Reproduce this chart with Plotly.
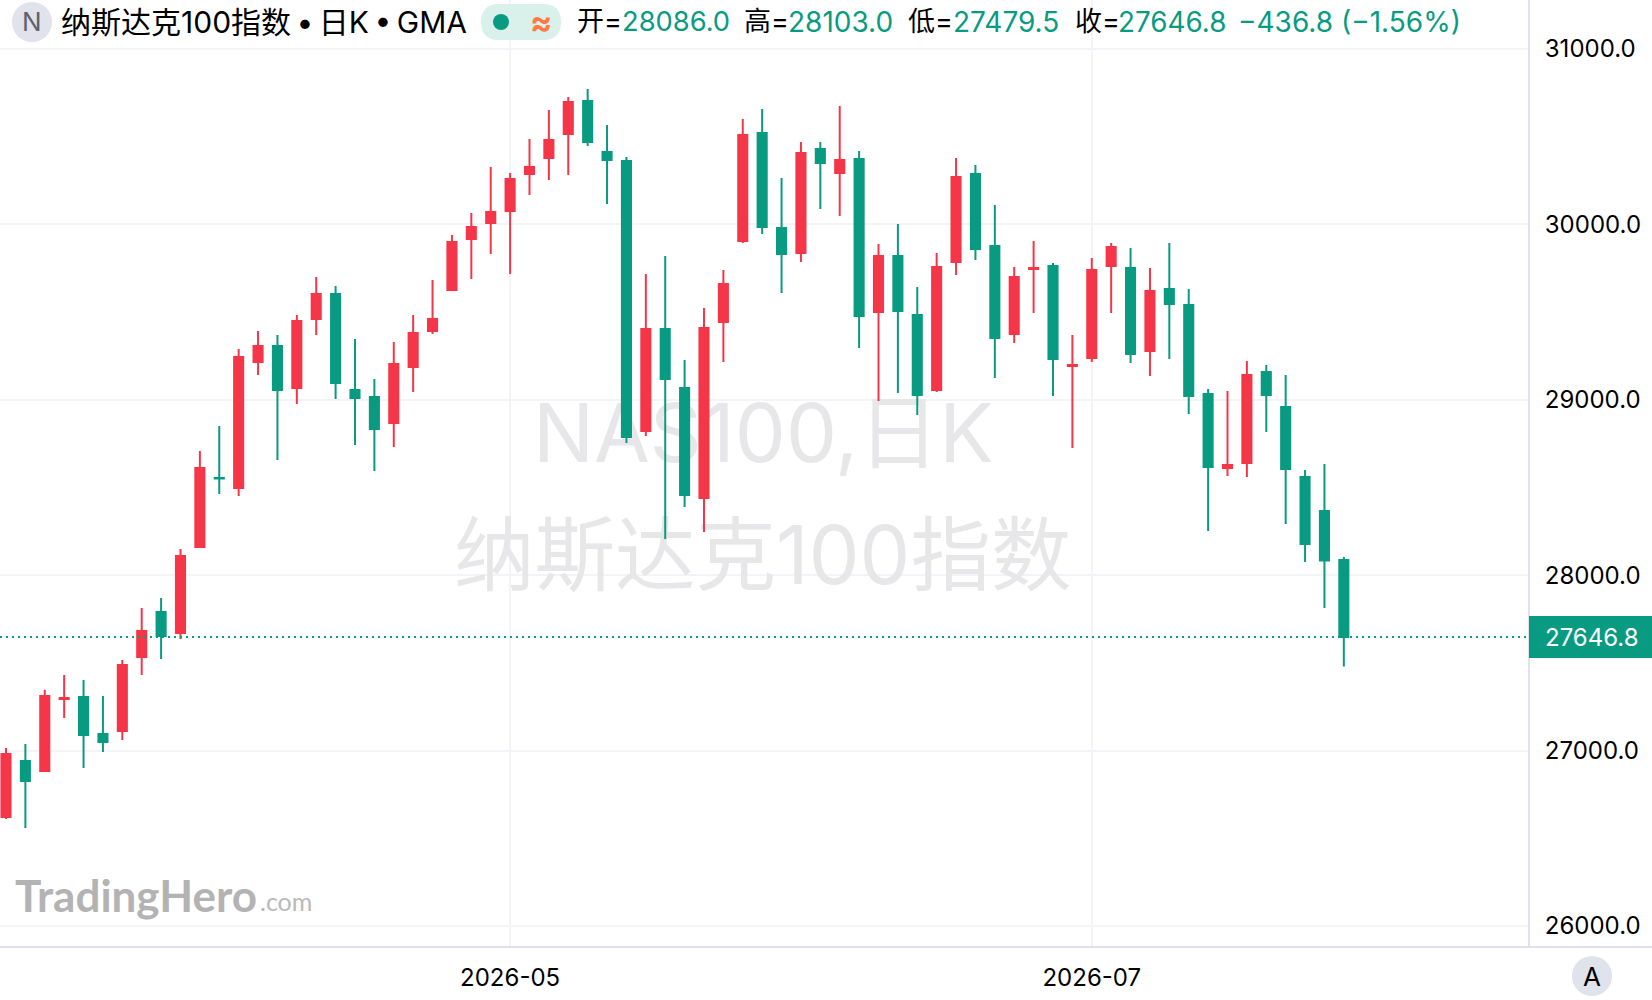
import plotly.graph_objects as go

# Daily OHLC bars, oldest first
open_ = [26621, 26941, 26884, 27294, 27306, 27095, 27112, 27534, 27790, 27670,
         28161, 28554, 28497, 29216, 29307, 29067, 29461, 29603, 29056, 29016,
         28868, 29187, 29392, 29626, 29917, 30008, 30076, 30287, 30379, 30515,
         30704, 30413, 30362, 28822, 29404, 29067, 28440, 29444, 29905, 30521,
         29980, 29837, 30430, 30293, 30373, 29501, 29820, 29484, 29056, 29786,
         30287, 29877, 29375, 29746, 29763, 29193, 29238, 29763, 29751, 29278,
         29632, 29541, 29033, 28611, 28640, 29159, 28959, 28560, 28366, 28086.0]
high = [27015, 27038, 27346, 27431, 27403, 27311, 27517, 27813, 27870, 28149,
        28708, 28851, 29290, 29392, 29369, 29484, 29700, 29649, 29347, 29119,
        29330, 29484, 29683, 29940, 30065, 30327, 30293, 30487, 30652, 30726,
        30772, 30567, 30384, 29717, 29820, 29227, 29523, 29740, 30601, 30658,
        30265, 30470, 30470, 30675, 30419, 29888, 30002, 29643, 29837, 30379,
        30339, 30111, 29757, 29905, 29780, 29369, 29808, 29894, 29865, 29751,
        29894, 29632, 29062, 29050, 29221, 29198, 29141, 28600, 28634, 28103.0]
low = [26610, 26559, 26878, 27186, 26901, 26992, 27060, 27431, 27522, 27636,
       28155, 28463, 28452, 29141, 28657, 28976, 29369, 29005, 28742, 28594,
       28731, 29045, 29375, 29620, 29689, 29831, 29717, 30168, 30253, 30282,
       30447, 30116, 28754, 28794, 28206, 28389, 28246, 29216, 29894, 29945,
       29609, 29786, 30088, 30048, 29295, 28993, 29039, 28913, 29045, 29712,
       29797, 29124, 29324, 29495, 29022, 28725, 29216, 29495, 29210, 29136,
       29233, 28919, 28252, 28566, 28560, 28816, 28292, 28075, 27813, 27479.5]
close = [26981, 26827, 27311, 27300, 27089, 27049, 27488, 27682, 27653, 28109,
         28611, 28551, 29244, 29307, 29056, 29449, 29603, 29096, 29010, 28834,
         29204, 29381, 29461, 29900, 29985, 30071, 30259, 30327, 30481, 30698,
         30470, 30367, 28788, 29404, 29119, 28457, 29409, 29660, 30510, 29985,
         29831, 30407, 30350, 30367, 29478, 29820, 29506, 29027, 29757, 30270,
         29860, 29352, 29700, 29751, 29233, 29198, 29740, 29871, 29261, 29620,
         29546, 29022, 28617, 28628, 29141, 29027, 28605, 28178, 28083.6, 27646.8]
bar_index = list(range(len(close)))

price_ticks = [26000, 27000, 28000, 29000, 30000, 31000]
month_positions = [26, 56]
month_labels = ["2026-05", "2026-07"]

last_price = close[-1]
change = last_price - close[-2]
change_pct = change / close[-2] * 100

UP = "#F53648"
DOWN = "#099B81"
GRID = "#F3F3F8"
BORDER = "#E0E1EC"
BADGE = "#E0E2EC"
NUM_FONT = "Inter, Liberation Sans, Noto Sans CJK SC"
WATERMARK = "#E7E7E9"

WIDTH, HEIGHT = 1652, 1000
PLOT_W, PLOT_H = 1529, 947


def px(x):
    return x / PLOT_W


def py(y):
    return 1 - y / PLOT_H


x_range = [-0.309, 78.55]
y_range = [25880, 31279.3]

fig = go.Figure()

# Watermark sits on the base subplot so the candles overlay it
fig.add_trace(go.Scatter(
    x=[39.06, 39.03], y=[28762, 28062],
    mode="text",
    text=["NAS100,日K", "纳斯达克100指数"],
    textposition="middle center",
    textfont=dict(size=[81, 80.5], color=WATERMARK, family=NUM_FONT),
    hoverinfo="skip", showlegend=False,
    xaxis="x", yaxis="y",
))

fig.add_trace(go.Candlestick(
    x=bar_index, open=open_, high=high, low=low, close=close,
    increasing=dict(line=dict(color=UP, width=2), fillcolor=UP),
    decreasing=dict(line=dict(color=DOWN, width=2), fillcolor=DOWN),
    whiskerwidth=0,
    xaxis="x2", yaxis="y2",
    showlegend=False,
))

shapes = [
    # Axis borders
    dict(type="line", xref="paper", yref="paper", x0=px(0), x1=px(WIDTH),
         y0=py(PLOT_H), y1=py(PLOT_H), line=dict(color=BORDER, width=2)),
    dict(type="line", xref="paper", yref="paper", x0=1, x1=1, y0=0, y1=1,
         line=dict(color=BORDER, width=2)),
    # Last price marker
    dict(type="line", xref="paper", yref="y", x0=0, x1=1, y0=last_price, y1=last_price,
         line=dict(color=DOWN, width=2, dash="2px,4px"), layer="above"),
    dict(type="rect", xref="paper", yref="y", x0=1, x1=px(WIDTH),
         ysizemode="pixel", yanchor=last_price, y0=-21, y1=21,
         fillcolor=DOWN, line=dict(width=0), layer="above"),
    # Symbol badge, status pill and auto-scale badge
    dict(type="circle", xref="paper", yref="paper", x0=px(12), x1=px(52), y0=py(42), y1=py(2),
         fillcolor=BADGE, line=dict(width=0), layer="above"),
    dict(type="path", xref="paper", yref="paper", layer="above",
         path=(f"M {px(499)},{py(4)} L {px(543)},{py(4)} "
               f"Q {px(561)},{py(4)} {px(561)},{py(22)} Q {px(561)},{py(40)} {px(543)},{py(40)} "
               f"L {px(499)},{py(40)} Q {px(481)},{py(40)} {px(481)},{py(22)} "
               f"Q {px(481)},{py(4)} {px(499)},{py(4)} Z"),
         fillcolor="#DAF0EB", line=dict(width=0)),
    dict(type="circle", xref="paper", yref="paper", x0=px(493), x1=px(509), y0=py(30), y1=py(14),
         fillcolor=DOWN, line=dict(width=0), layer="above"),
    dict(type="circle", xref="paper", yref="paper", x0=px(1572), x1=px(1612), y0=py(996), y1=py(956),
         fillcolor=BADGE, line=dict(width=0), layer="above"),
]


def label(text, x, y, size, color="#000000", family=NUM_FONT, anchor="left", **kw):
    return dict(text=text, xref="paper", yref="paper", x=px(x), y=py(y),
                xanchor=anchor, yanchor="middle", showarrow=False,
                font=dict(size=size, color=color, family=family),
                borderpad=0, borderwidth=0, **kw)


HEAD = 27
annotations = [
    label("N", 32, 22, 26, "#5F6270", anchor="center"),
    label("纳斯达克100指数\u2009•\u2009日K\u2009•\u2009GMA", 61, 22, 30),
    label("<b>≈</b>", 541, 22, 33, "#FF7B45", anchor="center"),
    label("开=", 577, 22, HEAD),
    label(f"{open_[-1]:.1f}", 622, 22, 27.3, DOWN),
    label("高=", 744, 22, HEAD),
    label(f"{high[-1]:.1f}", 788, 22, 28, DOWN),
    label("低=", 908, 22, HEAD),
    label(f"{low[-1]:.1f}", 953, 22, 28, DOWN),
    label("收=", 1075, 22, HEAD),
    label(f"{last_price:.1f}", 1118, 22, 27.8, DOWN),
    label(f"−{abs(change):.1f} (−{abs(change_pct):.2f}%)", 1238, 22, 28, DOWN),
    label(f"{last_price:.1f}", 1545, 637, 24, "#FFFFFF"),
    label("A", 1592, 976, 26, "#000000", anchor="center"),
    label("<b>TradingHero</b>", 15, 895, 44, "#B3B3B3", family="Lato"),
    label(".com", 260, 901, 25, "#B9B9B9", family="Lato"),
]

axis_font = dict(size=24, color="#000000", family=NUM_FONT)

fig.update_layout(
    width=WIDTH, height=HEIGHT, autosize=False,
    margin=dict(l=0, r=WIDTH - PLOT_W, t=0, b=HEIGHT - PLOT_H, pad=0),
    paper_bgcolor="#FFFFFF", plot_bgcolor="#FFFFFF",
    showlegend=False,
    boxgap=0.33,
    shapes=shapes, annotations=annotations,
    xaxis=dict(
        range=x_range, tickmode="array", tickvals=month_positions, ticktext=month_labels,
        showgrid=True, gridcolor=GRID, gridwidth=2, zeroline=False, showline=False,
        ticks="outside", ticklen=9, tickcolor="rgba(0,0,0,0)", tickfont=axis_font,
        fixedrange=True,
    ),
    yaxis=dict(
        range=y_range, side="right", tickmode="array", tickvals=price_ticks,
        ticktext=[f"{v:.1f}" for v in price_ticks],
        showgrid=True, gridcolor=GRID, gridwidth=2, zeroline=False, showline=False,
        ticks="outside", ticklen=10, tickcolor="rgba(0,0,0,0)", tickfont=axis_font,
        fixedrange=True,
    ),
    xaxis2=dict(range=x_range, overlaying="x", visible=False, rangeslider=dict(visible=False),
                fixedrange=True, anchor="y2"),
    yaxis2=dict(range=y_range, overlaying="y", visible=False, side="right",
                fixedrange=True, anchor="x2"),
)

fig.write_html("out.html", config=dict(displayModeBar=False))
